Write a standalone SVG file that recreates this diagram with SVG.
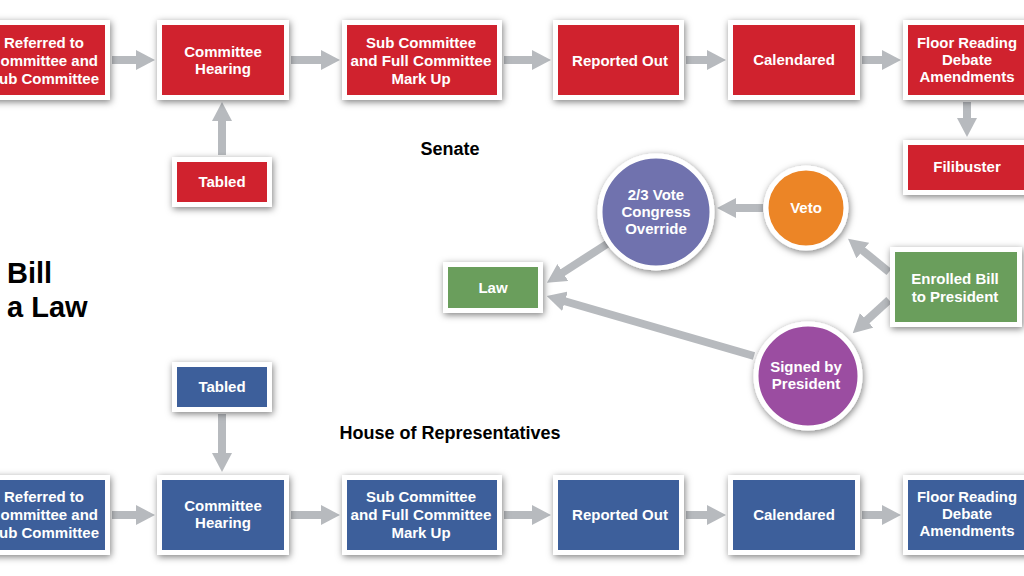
<svg xmlns="http://www.w3.org/2000/svg" width="1024" height="576" viewBox="0 0 1024 576">
<defs>
<filter id="sh" x="-20%" y="-20%" width="140%" height="150%">
<feDropShadow dx="1" dy="2" stdDeviation="3.5" flood-color="#000" flood-opacity="0.5"/>
</filter>
<marker id="ah" markerUnits="userSpaceOnUse" markerWidth="19" markerHeight="20" viewBox="0 0 19 20" refX="1" refY="10" orient="auto">
<path d="M0,0 L19,10 L0,20 z" fill="#b7babe"/>
</marker>
<style>
.box{stroke:#fff;stroke-width:5;filter:url(#sh)}
.red{fill:#d0212d}
.blue{fill:#3c5f9b}
.green{fill:#6b9e5b}
.orange{fill:#ec8526}
.violet{fill:#6f72ae}
.purple{fill:#9b4da1}
.t{font-family:"Liberation Sans",Arial,sans-serif;font-weight:bold;font-size:15px;fill:#fff;text-anchor:middle}
.e{text-anchor:end}
.lbl{font-family:"Liberation Sans",Arial,sans-serif;font-weight:bold;font-size:18px;fill:#000;text-anchor:middle}
.title{font-family:"Liberation Sans",Arial,sans-serif;font-weight:bold;font-size:29px;fill:#000}
.c{fill:none;stroke:#b7babe;stroke-width:8;marker-end:url(#ah)}
</style>
</defs>
<rect width="1024" height="576" fill="#fff"/>

<g id="connectors">
<path class="c" d="M112,60 H137"/>
<path class="c" d="M291,60 H322"/>
<path class="c" d="M504,60 H533"/>
<path class="c" d="M686,60 H708"/>
<path class="c" d="M862,60 H883"/>
<path class="c" d="M222,155 V120"/>
<path class="c" d="M967,102 V119"/>
<path class="c" d="M112,515 H137"/>
<path class="c" d="M291,515 H322"/>
<path class="c" d="M504,515 H533"/>
<path class="c" d="M686,515 H708"/>
<path class="c" d="M862,515 H883"/>
<path class="c" d="M222,414 V454"/>
<path class="c" d="M763,208 H735"/>
<path class="c" d="M607,244 L562,273"/>
<path class="c" d="M754,356 L564,301"/>
<path class="c" d="M889,272 L862,250"/>
<path class="c" d="M889,300 L866,321"/>
</g>

<g id="title">
<text class="title" x="7" y="283">Bill</text>
<text class="title" x="7" y="317">a Law</text>
</g>
<text class="lbl" x="450" y="155">Senate</text>
<text class="lbl" x="450" y="439">House of Representatives</text>

<g id="s-referred"><rect class="box red" x="-20" y="22.5" width="127.5" height="75"/>
<text class="t" x="44" y="48">Referred to</text><text class="t e" x="98" y="66">ommittee and</text><text class="t e" x="99" y="84">ub Committee</text></g>
<g id="s-hearing"><rect class="box red" x="159.5" y="22.5" width="127" height="75"/>
<text class="t" x="223" y="57">Committee</text><text class="t" x="223" y="74">Hearing</text></g>
<g id="s-tabled"><rect class="box red" x="174.5" y="159.5" width="95" height="45"/>
<text class="t" x="222" y="187">Tabled</text></g>
<g id="s-markup"><rect class="box red" x="344.5" y="22.5" width="155" height="75"/>
<text class="t" x="421" y="48">Sub Committee</text><text class="t" x="421" y="66" textLength="141" lengthAdjust="spacingAndGlyphs">and Full Committee</text><text class="t" x="421" y="84">Mark Up</text></g>
<g id="s-reported"><rect class="box red" x="555.5" y="22.5" width="126" height="75"/>
<text class="t" x="620" y="66">Reported Out</text></g>
<g id="s-calendared"><rect class="box red" x="730.5" y="22.5" width="127" height="75"/>
<text class="t" x="794" y="65">Calendared</text></g>
<g id="s-floor"><rect class="box red" x="905.5" y="22.5" width="124" height="75"/>
<text class="t" x="967" y="48" textLength="100" lengthAdjust="spacingAndGlyphs">Floor Reading</text><text class="t" x="967" y="65">Debate</text><text class="t" x="967" y="82">Amendments</text></g>
<g id="s-filibuster"><rect class="box red" x="905.5" y="142.5" width="124" height="50"/>
<text class="t" x="967" y="172">Filibuster</text></g>

<g id="override"><circle class="box violet" cx="656" cy="212" r="56"/>
<text class="t" x="656" y="200">2/3 Vote</text><text class="t" x="656" y="217">Congress</text><text class="t" x="656" y="234">Override</text></g>
<g id="veto"><circle class="box orange" cx="806" cy="208" r="40"/>
<text class="t" x="806" y="213">Veto</text></g>
<g id="signed"><circle class="box purple" cx="808" cy="376" r="52"/>
<text class="t" x="806" y="372">Signed by</text><text class="t" x="806" y="389">President</text></g>
<g id="law"><rect class="box green" x="445.5" y="264.5" width="95" height="46"/>
<text class="t" x="493" y="293">Law</text></g>
<g id="enrolled"><rect class="box green" x="892.5" y="249.5" width="127" height="75"/>
<text class="t" x="955" y="284">Enrolled Bill</text><text class="t" x="955" y="302">to President</text></g>

<g id="h-tabled"><rect class="box blue" x="174.5" y="364.5" width="95" height="45"/>
<text class="t" x="222" y="392">Tabled</text></g>
<g id="h-referred"><rect class="box blue" x="-20" y="477.5" width="127.5" height="75"/>
<text class="t" x="44" y="502">Referred to</text><text class="t e" x="98" y="520">ommittee and</text><text class="t e" x="99" y="538">ub Committee</text></g>
<g id="h-hearing"><rect class="box blue" x="159.5" y="477.5" width="127" height="75"/>
<text class="t" x="223" y="511">Committee</text><text class="t" x="223" y="528">Hearing</text></g>
<g id="h-markup"><rect class="box blue" x="344.5" y="477.5" width="155" height="75"/>
<text class="t" x="421" y="502">Sub Committee</text><text class="t" x="421" y="520" textLength="141" lengthAdjust="spacingAndGlyphs">and Full Committee</text><text class="t" x="421" y="538">Mark Up</text></g>
<g id="h-reported"><rect class="box blue" x="555.5" y="477.5" width="126" height="75"/>
<text class="t" x="620" y="520">Reported Out</text></g>
<g id="h-calendared"><rect class="box blue" x="730.5" y="477.5" width="127" height="75"/>
<text class="t" x="794" y="520">Calendared</text></g>
<g id="h-floor"><rect class="box blue" x="905.5" y="477.5" width="124" height="75"/>
<text class="t" x="967" y="502" textLength="100" lengthAdjust="spacingAndGlyphs">Floor Reading</text><text class="t" x="967" y="519">Debate</text><text class="t" x="967" y="536">Amendments</text></g>
</svg>
